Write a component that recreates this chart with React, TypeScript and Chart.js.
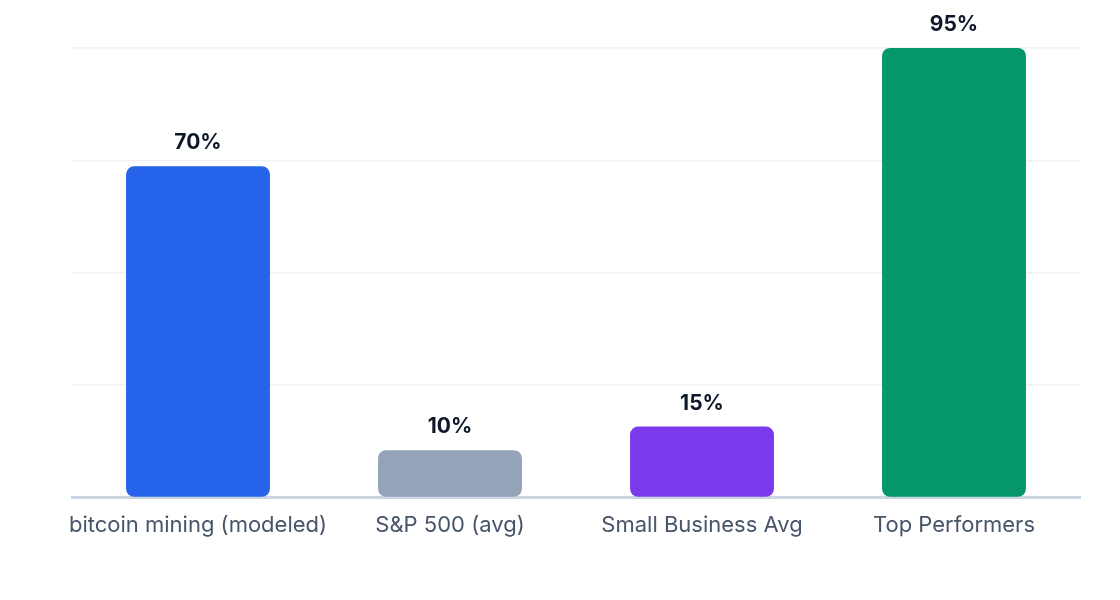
import { useEffect, useRef } from "react"
import { Chart, registerables, Plugin } from "chart.js"

Chart.register(...registerables)

const categories = ["bitcoin mining (modeled)", "S&P 500 (avg)", "Small Business Avg", "Top Performers"]
const values = [70, 10, 15, 95]
const barColors = ["#2563eb", "#94a3b8", "#7c3aed", "#059669"]

const FONT = "Inter, 'Liberation Sans', Arial, sans-serif"

// Draws the "NN%" label above each bar
const valueLabels: Plugin<"bar"> = {
  id: "valueLabels",
  afterDatasetsDraw(chart) {
    const ctx = chart.ctx
    const meta = chart.getDatasetMeta(0)
    ctx.save()
    ctx.font = `bold 21px ${FONT}`
    ctx.fillStyle = "#0f172a"
    ctx.textAlign = "center"
    ctx.textBaseline = "alphabetic"
    meta.data.forEach((bar, i) => {
      ctx.fillText(`${values[i]}%`, bar.x, bar.y - 17)
    })
    ctx.restore()
  },
}

export default function App() {
  const chartRef = useRef<HTMLCanvasElement>(null)
  const chartInstance = useRef<Chart | null>(null)

  useEffect(() => {
    if (!chartRef.current) return
    if (chartInstance.current) chartInstance.current.destroy()

    chartInstance.current = new Chart(chartRef.current, {
      type: "bar",
      data: {
        labels: categories,
        datasets: [
          {
            data: values,
            backgroundColor: barColors,
            borderRadius: 8,
            borderSkipped: false,
            barPercentage: 1,
            categoryPercentage: 0.571,
          },
        ],
      },
      options: {
        animation: false,
        responsive: true,
        maintainAspectRatio: false,
        layout: { padding: { left: 72, right: 40, top: 48, bottom: 54 } },
        plugins: {
          legend: { display: false },
          tooltip: { enabled: false },
        },
        scales: {
          x: {
            grid: { display: false },
            border: { display: true, color: "#cbd5e1", width: 3 },
            ticks: {
              color: "#475569",
              font: { size: 22, family: FONT },
              padding: 7,
              maxRotation: 0,
              autoSkip: false,
            },
          },
          y: {
            min: 0,
            max: 95,
            ticks: { display: false, count: 5 },
            grid: { color: "#eef1f5", lineWidth: 1.5, drawTicks: false },
            border: { display: false },
          },
        },
      },
      plugins: [valueLabels],
    })

    return () => {
      if (chartInstance.current) {
        chartInstance.current.destroy()
        chartInstance.current = null
      }
    }
  }, [])

  return (
    <div style={{ position: "absolute", left: 0, top: 0, width: 1120, height: 600, background: "#fff" }}>
      <canvas ref={chartRef} />
    </div>
  )
}
